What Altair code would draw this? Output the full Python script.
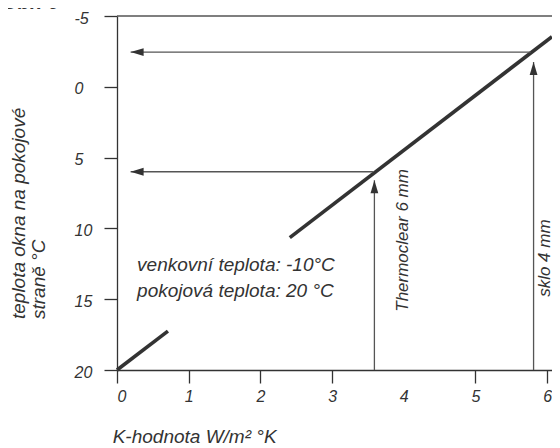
import altair as alt
import pandas as pd

FONT = "Liberation Sans"
INK = "#333333"

# ---- data ----
x_ticks = [0, 1, 2, 3, 4, 5, 6]
y_ticks = [-5, 0, 5, 10, 15, 20]
x_max = 6.067

# main line (with a gap where the note text sits)
line_k = [0.0, 0.71, 2.41, 6.067]
line_t = [20.0, 17.25, 10.65, -3.54]
line_seg = [1, 1, 2, 2]

# horizontal arrows (from the line leftwards to the axis)
h_start_k = [5.77, 3.57]
h_tip_k = [0.19, 0.19]
h_t = [-2.45, 6.0]

# vertical arrows (from the bottom up to the line)
v_k = [3.59, 5.81]
v_start_t = [20.0, 20.0]
v_tip_t = [6.6, -1.75]

# texts
note_lines = ["venkovní teplota: -10°C", "pokojová teplota: 20 °C"]
note_k = [0.28, 0.28]
note_t = [12.6, 14.45]

vert_labels = ["Thermoclear 6 mm", "sklo 4 mm"]
vert_k = [4.06, 6.04]
vert_t = [10.85, 12.1]

ytitle_lines = ["teplota okna na pokojové", "straně °C"]
ytitle_k = [-1.36, -1.09]
ytitle_t = [16.4, 16.4]

xtitle = "K-hodnota W/m²  °K"
xtitle_k = [-0.06]
xtitle_t = [25.15]

fig_label = "Obr. 6"
fig_k = [-1.6]
fig_t = [-5.5]

# ---- scales / axes ----
xs = alt.Scale(domain=[0, x_max], nice=False, zero=False)
ys = alt.Scale(domain=[-5, 20], nice=False, zero=False, reverse=True)

xaxis = alt.Axis(
    values=x_ticks, title=None, grid=False,
    domainColor=INK, domainWidth=1.3, tickColor=INK, tickWidth=1.3, tickSize=13,
    tickOpacity={"condition": {"test": "datum.value == 4", "value": 0}, "value": 1},
    labelFont=FONT, labelFontStyle="italic", labelFontSize=16, labelColor=INK,
    labelPadding=5, labelExpr="'' + datum.value",
)
yaxis = alt.Axis(
    values=y_ticks, title=None, grid=False,
    domainColor=INK, domainWidth=1.3, tickColor=INK, tickWidth=1.3, tickSize=13,
    labelFont=FONT, labelFontStyle="italic", labelFontSize=16, labelColor=INK,
    labelAlign="left", labelPadding=30, labelBaseline="middle", labelOffset=2,
    labelExpr="'' + datum.value",
)


def X(f):
    return alt.X(f"{f}:Q", scale=xs, axis=xaxis)


def Y(f):
    return alt.Y(f"{f}:Q", scale=ys, axis=yaxis)


line_df = pd.DataFrame({"k": line_k, "t": line_t, "seg": line_seg})
h_df = pd.DataFrame({"k": h_tip_k, "k2": h_start_k, "t": h_t})
v_df = pd.DataFrame({"k": v_k, "t": v_tip_t, "t2": v_start_t})
note_df = pd.DataFrame({"k": note_k, "t": note_t, "txt": note_lines})
vert_df = pd.DataFrame({"k": vert_k, "t": vert_t, "txt": vert_labels})
ytitle_df = pd.DataFrame({"k": ytitle_k, "t": ytitle_t, "txt": ytitle_lines})
xtitle_df = pd.DataFrame({"k": xtitle_k, "t": xtitle_t, "txt": [xtitle]})
fig_df = pd.DataFrame({"k": fig_k, "t": fig_t, "txt": [fig_label]})
frame_df = pd.DataFrame({"k": [0.0], "k2": [x_max], "t": [-5.0]})

frame = alt.Chart(frame_df).mark_rule(color="#555555", strokeWidth=1.6).encode(
    x=X("k"), x2="k2", y=Y("t")
)

main_line = alt.Chart(line_df).mark_line(color=INK, strokeWidth=3.6, strokeCap="butt").encode(
    x=X("k"), y=Y("t"), detail="seg:N"
)

h_rules = alt.Chart(h_df).mark_rule(color="#555555", strokeWidth=1.3).encode(
    x=X("k"), x2="k2", y=Y("t")
)
h_heads = alt.Chart(h_df).mark_point(
    shape="M0,0L2,-0.6L2,0.6Z", filled=True, opacity=1, color=INK, size=169
).encode(x=X("k"), y=Y("t"))

v_rules = alt.Chart(v_df).mark_rule(color="#555555", strokeWidth=1.3).encode(
    x=X("k"), y=Y("t"), y2="t2"
)
v_heads = alt.Chart(v_df).mark_point(
    shape="M0,0L-0.6,2L0.6,2Z", filled=True, opacity=1, color=INK, size=169
).encode(x=X("k"), y=Y("t"))

note = alt.Chart(note_df).mark_text(
    font=FONT, fontStyle="italic", fontSize=19, color=INK, align="left", baseline="middle"
).encode(x=X("k"), y=Y("t"), text="txt:N")

vert = alt.Chart(vert_df).mark_text(
    font=FONT, fontStyle="italic", fontSize=17, color=INK, align="center",
    baseline="alphabetic", angle=270
).encode(x=X("k"), y=Y("t"), text="txt:N")

ytitle = alt.Chart(ytitle_df).mark_text(
    font=FONT, fontStyle="italic", fontSize=19, color=INK, align="left",
    baseline="middle", angle=270
).encode(x=X("k"), y=Y("t"), text="txt:N")

xtitle_m = alt.Chart(xtitle_df).mark_text(
    font=FONT, fontStyle="italic", fontSize=19, color=INK, align="left",
    baseline="alphabetic"
).encode(x=X("k"), y=Y("t"), text="txt:N")

fig_m = alt.Chart(fig_df).mark_text(
    font=FONT, fontStyle="italic", fontWeight="bold", fontSize=20, color=INK,
    align="left", baseline="alphabetic"
).encode(x=X("k"), y=Y("t"), text="txt:N")

chart = alt.layer(
    frame, main_line, h_rules, h_heads, v_rules, v_heads,
    note, vert, ytitle, xtitle_m, fig_m
).properties(
    width=435, height=354,
    autosize=alt.AutoSizeParams(type="none"),
    padding={"left": 109, "top": 8, "right": 0, "bottom": 78},
).configure_view(stroke=None)

chart.save("out.html", embed_options={"renderer": "svg", "actions": False})
